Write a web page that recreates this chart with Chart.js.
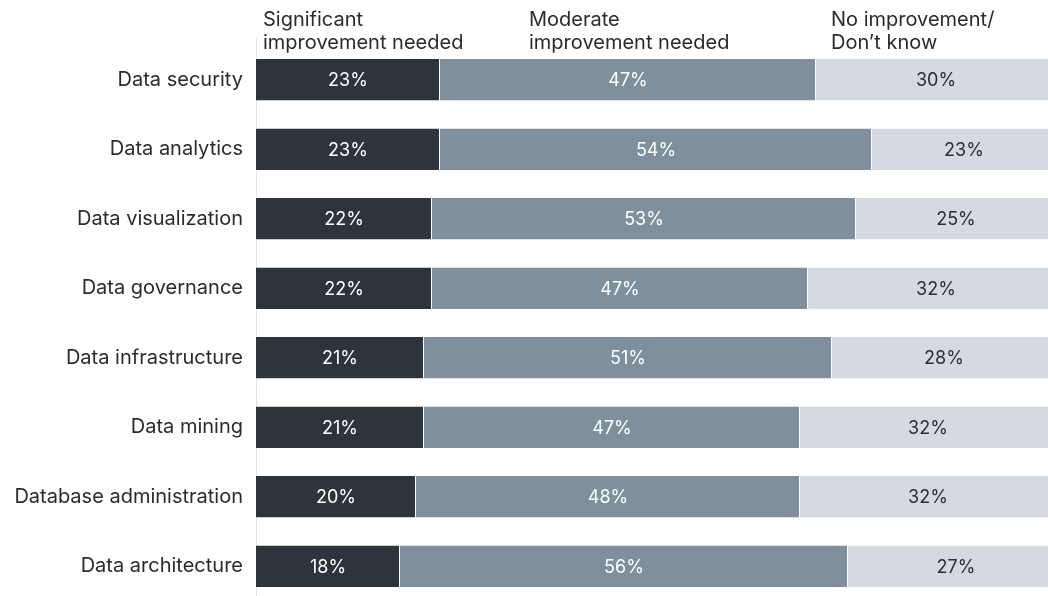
<!DOCTYPE html>
<html>
<head>
<meta charset="utf-8">
<script src="https://cdn.jsdelivr.net/npm/chart.js@4/dist/chart.umd.min.js"></script>
<style>
  html, body { margin: 0; padding: 0; background: #fff; overflow: hidden; }
  #wrap { position: relative; width: 1048px; height: 596px; overflow: hidden; }
  #chart { position: absolute; left: 0; top: 0; }
</style>
</head>
<body>
<div id="wrap"><canvas id="chart" width="1048" height="626"></canvas></div>
<script>
const categories = ['Data security', 'Data analytics', 'Data visualization', 'Data governance',
  'Data infrastructure', 'Data mining', 'Database administration', 'Data architecture'];
const significant = [23, 23, 22, 22, 21, 21, 20, 18];
const moderate = [47, 54, 53, 47, 51, 47, 48, 56];
const noImprovement = [30, 23, 25, 32, 28, 32, 32, 27];
const seriesNames = ['Significant improvement needed', 'Moderate improvement needed', 'No improvement/Don\u2019t know'];
const headerLines = [
  ['Significant', 'improvement needed'],
  ['Moderate', 'improvement needed'],
  ['No improvement/', 'Don\u2019t know']
];

const FONT = 'Inter, "Noto Sans", sans-serif';
const colors = ['#2e343b', '#7f8f9e', '#d4dae0'];
const labelColors = ['#ffffff', '#ffffff', '#2b2f33'];

// draws the % inside each segment and the column headers
const labelsPlugin = {
  id: 'segLabels',
  afterDatasetsDraw(chart) {
    const ctx = chart.ctx;
    ctx.save();
    ctx.font = '18px ' + FONT;
    ctx.textAlign = 'center';
    ctx.textBaseline = 'middle';
    chart.data.datasets.forEach((ds, i) => {
      const meta = chart.getDatasetMeta(i);
      meta.data.forEach((bar, j) => {
        const cx = (bar.x + bar.base) / 2;
        ctx.fillStyle = labelColors[i];
        ctx.fillText(ds.data[j] + '%', cx, bar.y + 1);
      });
    });

    // headers above the first bar, aligned with segment starts
    ctx.font = '20px ' + FONT;
    ctx.textAlign = 'left';
    ctx.fillStyle = '#2b2b2b';
    const headerX = [263, 529, 831];
    headerLines.forEach((lines, i) => {
      lines.forEach((t, k) => {
        ctx.fillText(t, headerX[i], 20 + k * 23);
      });
    });

    // axis line starts a bit above the plot area
    const a = chart.chartArea;
    ctx.strokeStyle = '#e3e3e3';
    ctx.lineWidth = 1;
    ctx.beginPath();
    ctx.moveTo(a.left + 0.5, 38);
    ctx.lineTo(a.left + 0.5, a.top);
    ctx.stroke();
    ctx.restore();
  }
};

new Chart(document.getElementById('chart').getContext('2d'), {
  type: 'bar',
  data: {
    labels: categories,
    datasets: [significant, moderate, noImprovement].map((d, i) => ({
      label: seriesNames[i],
      data: d,
      backgroundColor: colors[i],
      borderColor: '#ffffff',
      borderWidth: { top: 0, right: 1, bottom: 0, left: 0 },
      borderSkipped: false,
      barPercentage: 0.6,
      categoryPercentage: 1.0
    }))
  },
  options: {
    indexAxis: 'y',
    responsive: false,
    animation: false,
    devicePixelRatio: 1,
    layout: { padding: { top: 45, bottom: 0, right: 0, left: 0 } },
    plugins: {
      legend: { display: false },
      tooltip: { enabled: false }
    },
    scales: {
      x: {
        stacked: true,
        min: 0,
        max: 99,
        display: false
      },
      y: {
        stacked: true,
        afterFit(scale) { scale.width = 256; },
        grid: { display: true, drawOnChartArea: false, drawTicks: false },
        border: { display: true, color: '#e3e3e3', width: 1 },
        ticks: {
          padding: 13,
          color: '#2b2b2b',
          font: { family: FONT, size: 20 }
        }
      }
    }
  },
  plugins: [labelsPlugin]
});
</script>
</body>
</html>
